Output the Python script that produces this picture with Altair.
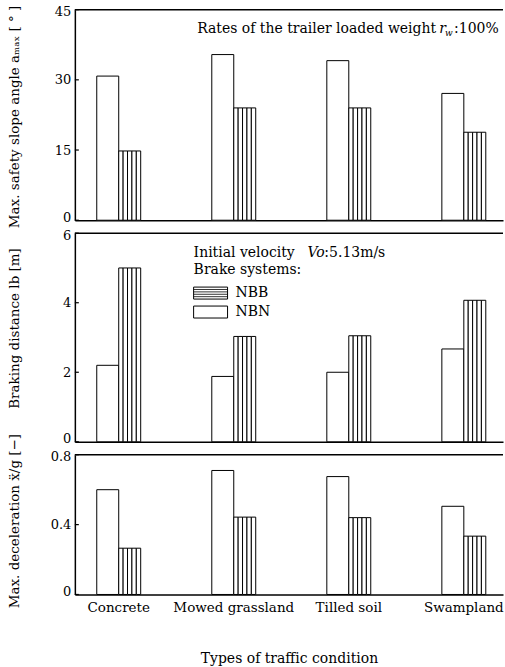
import altair as alt
import pandas as pd

# Traffic conditions on the horizontal axis
categories = ["Concrete", "Mowed grassland", "Tilled soil", "Swampland"]
systems = ["NBN", "NBB"]

# Max. safety slope angle [deg]
slope_nbn = [30.8, 35.4, 34.1, 27.1]
slope_nbb = [14.8, 24.0, 24.0, 18.8]
slope_ticks = [0, 15, 30, 45]

# Braking distance [m]
dist_nbn = [2.2, 1.88, 2.0, 2.67]
dist_nbb = [5.0, 3.03, 3.05, 4.07]
dist_ticks = [0, 2, 4, 6]

# Max. deceleration [-]
decel_nbn = [0.60, 0.71, 0.675, 0.505]
decel_nbb = [0.265, 0.443, 0.44, 0.334]
decel_ticks = [0, 0.4, 0.8]

FONT = "DejaVu Serif"
FS = 14
W = 429
N_STRIPES = 5  # vertical hatching of the NBB bars
slots = [f"a{i}" for i in range(N_STRIPES)] + [f"b{i}" for i in range(N_STRIPES)]
one = pd.DataFrame({"k": [0]})


def text(s, x, y, align="left", size=FS, style="normal", baseline="alphabetic"):
    return alt.Chart(one).mark_text(
        text=s, align=align, baseline=baseline, font=FONT, fontSize=size,
        fontStyle=style, color="black",
    ).encode(x=alt.value(x), y=alt.value(y))


def box(x, x2, y, y2):
    return alt.Chart(one).mark_rect(fill="white", stroke="black", strokeWidth=1).encode(
        x=alt.value(x), x2=alt.value(x2), y=alt.value(y), y2=alt.value(y2)
    )


def hline(x, x2, y, w=0.8):
    return alt.Chart(one).mark_rule(color="black", strokeWidth=w).encode(
        x=alt.value(x), x2=alt.value(x2), y=alt.value(y)
    )


def panel(nbn, nbb, ticks, label_expr, ytitle, title_y, height, bottom, notes):
    bars = pd.DataFrame({"cat": categories, "sys": "NBN", "v": nbn})
    stripes = pd.DataFrame(
        [{"cat": c, "slot": f"b{i}", "v": v} for c, v in zip(categories, nbb) for i in range(N_STRIPES)]
    )
    xkw = dict(domain=True, domainColor="black", domainWidth=1.5, ticks=False, labels=bottom, grid=False)
    if bottom:
        xkw.update(title="Types of traffic condition", labelPadding=6, titlePadding=38, labelAngle=0,
                   labelFontSize=13.5)
    else:
        xkw.update(title="")
    x = alt.X(
        "cat:N", sort=categories,
        scale=alt.Scale(domain=categories, paddingInner=0.618, paddingOuter=0.17, align=0.56),
        axis=alt.Axis(**xkw),
    )
    y = alt.Y(
        "v:Q", stack=None,
        scale=alt.Scale(domain=[ticks[0], ticks[-1]], nice=False, zero=True),
        axis=alt.Axis(
            values=ticks, labelExpr=label_expr, ticks=False, grid=False, domainColor="black",
            domainWidth=1.5, labelPadding=4, labelFontSize=13, labelFlush=True,
            labelFlushOffset=4, title=ytitle, titleAngle=270,
            titleX=-60, titleY=title_y, titleAlign="center", titleBaseline="middle",
            titleFontSize=13.5,
        ),
    )
    nbn_layer = alt.Chart(bars).mark_bar(fill="white", stroke="black", strokeWidth=1).encode(
        x=x, xOffset=alt.XOffset("sys:N", scale=alt.Scale(domain=systems)), y=y
    )
    nbb_layer = alt.Chart(stripes).mark_bar(fill="white", stroke="black", strokeWidth=1).encode(
        x=x, xOffset=alt.XOffset("slot:N", scale=alt.Scale(domain=slots)), y=y
    )
    tick_layer = alt.Chart(pd.DataFrame({"v": ticks})).mark_rule(color="black", strokeWidth=1.2).encode(
        y=y, x=alt.value(0), x2=alt.value(4)
    )
    top_layer = alt.Chart(pd.DataFrame({"v": [ticks[-1]]})).mark_rule(color="black", strokeWidth=1.5).encode(
        y=y, x=alt.value(0), x2=alt.value(W)
    )
    return alt.layer(nbn_layer, nbb_layer, tick_layer, top_layer, *notes).resolve_scale(
        xOffset="independent"
    ).properties(width=W, height=height)


top_notes = [
    text("Rates of the trailer loaded weight", 362, 23, align="right"),
    text("r", 365, 23, style="italic"),
    text("w", 371, 26, size=9, style="italic"),
    text(":100%", 380, 23),
]

legend_notes = [
    text("Initial velocity", 119, 24),
    text("Vo", 233, 24, style="italic"),
    text(":5.13m/s", 250, 24),
    text("Brake systems:", 119, 41),
    box(119, 153, 54, 66),
    hline(119, 153, 56.4),
    hline(119, 153, 58.8),
    hline(119, 153, 61.2),
    hline(119, 153, 63.6),
    text("NBB", 161, 60, baseline="middle"),
    box(119, 153, 73, 85),
    text("NBN", 161, 79, baseline="middle"),
]

int_labels = "format(datum.value, 'd')"
dec_labels = "datum.value == 0 ? '0' : format(datum.value, '.1f')"

p1 = panel(slope_nbn, slope_nbb, slope_ticks, int_labels,
           "Max. safety slope angle aₘₐₓ [ ° ]", 107, 211, False, top_notes)
p2 = panel(dist_nbn, dist_nbb, dist_ticks, int_labels,
           "Braking distance lb [m]", 95, 209, False, legend_notes)
p3 = panel(decel_nbn, decel_nbb, decel_ticks, dec_labels,
           "Max. deceleration ẍ/g [−]", 66, 140, True, [])

chart = (
    alt.vconcat(p1, p2, p3, spacing=13, bounds="flush")
    .properties(padding={"left": 7, "top": 3, "right": 0, "bottom": 0})
    .configure_view(stroke="transparent")
    .configure_axis(
        labelFont=FONT, labelFontSize=FS, labelColor="black",
        titleFont=FONT, titleFontSize=FS, titleColor="black", titleFontWeight="normal",
    )
)

chart.save("out.html", embed_options={"renderer": "svg", "actions": False})
